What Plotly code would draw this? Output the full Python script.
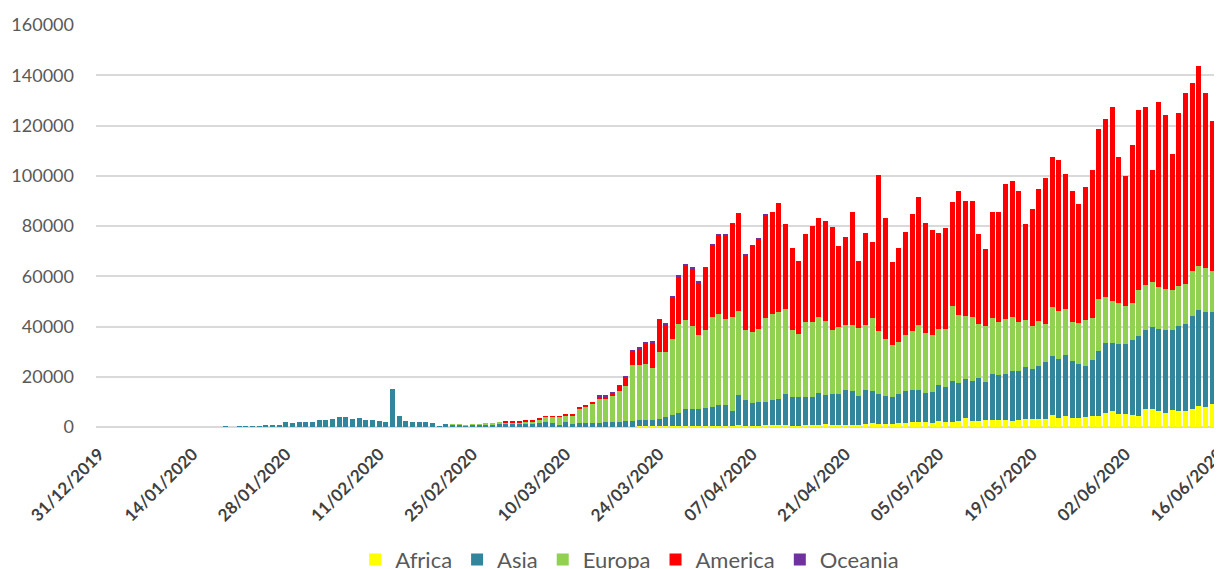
import pandas as pd
import plotly.graph_objects as go

dates = [d.strftime("%d/%m/%Y") for d in pd.date_range("2019-12-31", "2020-06-16", freq="D")]

tick_labels = ["31/12/2019", "14/01/2020", "28/01/2020", "11/02/2020", "25/02/2020",
               "10/03/2020", "24/03/2020", "07/04/2020", "21/04/2020", "05/05/2020",
               "19/05/2020", "02/06/2020", "16/06/2020"]

africa = (
    [0] * 61
    + [2, 3, 2, 5, 10, 10, 15, 20, 20, 25, 30, 40, 50, 60, 80, 100, 120, 150, 200, 200, 250, 250]
    + [250, 250, 300, 300, 350, 400, 400, 400, 400, 400, 500, 500, 500, 600, 500, 500, 550, 600,
       600, 650, 650, 550, 550, 600, 600, 900, 1050]
    + [930, 930, 700, 930, 700, 1330, 1450, 1050, 1200, 1200, 1450, 1450, 1850, 1850, 1850, 1450,
       2400, 1850, 2150, 2250, 3600, 2400, 2400, 2800, 2800, 2800, 2800, 2400]
    + [2650, 3050, 3050, 3050, 3300, 4650, 3600, 4250, 3450, 3600, 3850, 4500, 4350, 5550, 6250,
       5050, 5300, 4650, 4250, 7300, 7000, 6250, 5700, 6750, 6250, 6250, 7000, 8350, 7800, 9000, 7950]
)

asia = [
    0, 0, 0, 0, 0, 0, 0, 0, 0, 0, 0, 0, 0, 0, 0, 0, 0, 0, 0, 60, 0, 150, 140, 100, 260,
    500, 700, 900, 1950, 1600, 1850, 2100, 2100, 2750, 2750, 3300, 4100, 3850, 3300, 3400, 2650,
    2900, 2400, 1850, 15100,
    4300, 2500, 2050, 1950, 1850, 1700, 400, 1100, 1050, 950, 500, 800, 800, 1100, 1000, 1450,
    1400, 1300, 1200, 1300, 1200, 1700, 1800, 1450, 800, 1800, 1100, 1450, 1450, 1700, 1700, 1700,
    1700, 1700, 2000, 2100, 2400, 2600,
    2400, 3050, 3700, 4400, 5200, 6800, 6800, 6800, 7200, 7600, 8100, 8400, 5850, 12000, 10100,
    9200, 9450, 9300, 10000, 10500, 12650, 11450, 11450, 11300, 11300, 12650, 11700,
    12100, 12100, 13950, 13300, 11550, 13300, 12900, 11950, 11050, 10750, 11550, 12900, 12750,
    12900, 11850, 12500, 14200, 13950, 16100, 15300, 15550, 15950, 17150, 15300, 18350, 17800,
    18350, 19950,
    19500, 20800, 20150, 21050, 22500, 23700, 23450, 24400, 22800, 21600, 20250, 22250, 25850,
    27950, 27150, 28100, 27700, 29800, 31950, 31400, 32750, 32600, 33000, 32050, 33800, 34700,
    37350, 38300, 37900, 36700, 35750,
]

europa = (
    [0] * 53
    + [60, 100, 120, 200, 250, 300, 350, 450]
    + [550, 650, 750, 1000, 1150, 1400, 2300, 2600, 3200, 2800, 3500, 5800, 6750, 7300, 9400, 9400,
       10400, 12300, 14100, 22200, 22000, 22300]
    + [20650, 26650, 25850, 30250, 35300, 35450, 33050, 29300, 31050, 35600, 36400, 34250, 37600,
       33600, 28000, 28250, 29050, 33600, 34500, 34500, 33700, 26650, 25050, 30000, 30000, 30400, 29600]
    + [25500, 26850, 25900, 26300, 27350, 25800, 28950, 25100, 22700, 20750, 20750, 22350, 23650,
       25900, 23800, 22600, 22350, 23100, 29900, 27100, 25000, 25500, 21250, 22200, 22350, 21000,
       21950, 21550]
    + [19600, 18550, 17200, 18000, 15000, 19350, 18950, 18300, 15500, 16150, 18300, 16700, 20650,
       18150, 16950, 16300, 15250, 15100, 18150, 18000, 17900, 16850, 16300, 15750, 16150, 15900,
       17900, 17600, 17500, 16300, 14850]
)

america = (
    [0] * 61
    + [50, 60, 80, 120, 130, 150, 200, 250, 300, 300, 400, 450, 500, 800, 1000, 1000, 1300, 2400,
       3500, 5900, 6600, 8200]
    + [10250, 12650, 10800, 16650, 19050, 21600, 22800, 21200, 24650, 28900, 31600, 33450, 36900,
       38650, 30100, 34250, 35850, 40900, 40400, 43600, 33600, 32500, 29200, 34800, 38000, 39050, 39600]
    + [40900, 32150, 35200, 44900, 26600, 36800, 30300, 62350, 48100, 32800, 37600, 40900, 46400,
       51000, 43600, 41750, 38150, 40150, 41600, 49450, 45850, 46100, 36150, 30550, 42250, 44100,
       53550, 53950]
    + [52050, 38400, 46400, 52600, 58150, 59900, 60400, 53800, 52050, 47450, 53250, 58850, 67600,
       71000, 77000, 58150, 51800, 62650, 71950, 70500, 44800, 73550, 69150, 53950, 68900, 76050,
       74850, 79350, 69700, 59600, 59350]
)

oceania = (
    [0] * 75
    + [250, 300, 100, 150, 150, 200, 250, 300]
    + [400, 300, 400, 400, 350, 350, 300, 250, 300, 250, 200, 150, 150, 100, 100, 100, 80, 60]
    + [0] * 68
)

series = [
    ("Africa", africa, "#FFFF00"),
    ("Asia", asia, "#31869B"),
    ("Europa", europa, "#92D050"),
    ("America", america, "#FF0000"),
    ("Oceania", oceania, "#7030A0"),
]

fig = go.Figure()
for name, vals, color in series:
    fig.add_bar(x=dates, y=vals, name=name, marker_color=color, marker_line_width=0)

tick_vals = [dates[i] for i in range(0, len(dates), 14)]

# The page body adds an 8px offset, so the figure is sized to fill the rest of the window.
fig.update_layout(
    width=1214, height=561, autosize=False,
    barmode="stack", bargap=0.25,
    plot_bgcolor="white", paper_bgcolor="white",
    margin=dict(l=88, r=0, t=17, b=142, autoexpand=False),
    legend=dict(orientation="h", x=0.474, xanchor="center", y=-0.33, yanchor="middle",
                font=dict(family="Lato", size=22, color="#595959"), traceorder="normal"),
    xaxis=dict(type="category", range=[-0.5, len(dates) - 0.5], tickmode="array",
               tickvals=tick_vals, ticktext=tick_labels, tickangle=-45, automargin=False,
               tickfont=dict(family="Lato", size=17, color="#404040", weight="bold"),
               showgrid=False, showline=False, ticks="", zeroline=False, ticklabelstandoff=13),
    yaxis=dict(range=[0, 160000], dtick=20000, tickformat="d", automargin=False,
               tickfont=dict(family="Lato", size=18, color="#595959"),
               gridcolor="#d9d9d9", gridwidth=2, zeroline=True, zerolinecolor="#d9d9d9",
               zerolinewidth=2, showline=False, ticks="", ticklabelstandoff=21),
)

fig.write_html("out.html")
